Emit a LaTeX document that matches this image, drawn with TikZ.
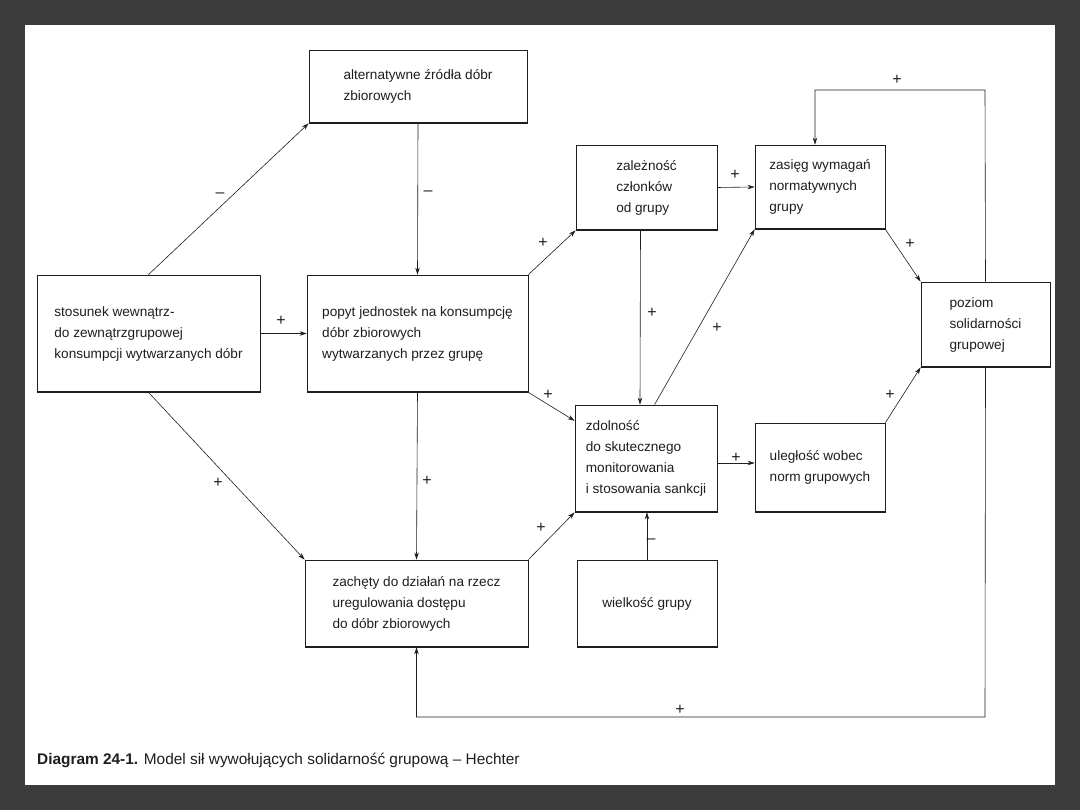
\documentclass[tikz,border=0pt]{standalone}
\usepackage{fontspec}
\setmainfont{Liberation Sans}
\usetikzlibrary{arrows.meta,calc}
\definecolor{frame}{HTML}{3C3C3C}
\definecolor{ink}{HTML}{1E1E1E}
\tikzset{
  box/.style={draw=ink, line width=0.8pt, align=left, text=ink, inner sep=4pt,
    font=\fontsize{13.6}{21}\selectfont},
  conn/.style={draw=ink, line width=0.6pt, -{Stealth[length=7pt,width=4.5pt]}},
  lbl/.style={text=ink, font=\fontsize{16}{16}\selectfont, inner sep=0pt},
}
\begin{document}
\begin{tikzpicture}[x=1pt,y=-1pt]
\useasboundingbox (0,0) rectangle (1080,810);
\fill[frame] (0,0) rectangle (1080,810);
\fill[white] (25,25) rectangle (1055,785);

% boxes
\node[box, minimum width=218pt, minimum height=73pt] (alt) at (418,86.5)
  {alternatywne źródła dóbr\\zbiorowych};
\node[box, minimum width=141pt, minimum height=85pt] (zal) at (646.5,187.5)
  {zależność\\członków\\od grupy};
\node[box, minimum width=130pt, minimum height=84pt] (zas) at (820,187)
  {zasięg wymagań\\normatywnych\\grupy};
\node[box, minimum width=223pt, minimum height=117pt] (sto) at (148.5,333.5)
  {stosunek wewnątrz-\\do zewnątrzgrupowej\\konsumpcji wytwarzanych dóbr};
\node[box, minimum width=221pt, minimum height=117pt] (pop) at (417.5,333.5)
  {popyt jednostek na konsumpcję\\dóbr zbiorowych\\wytwarzanych przez grupę};
\node[box, minimum width=142pt, minimum height=107pt] (zdo) at (646,458.5)
  {zdolność\\do skutecznego\\monitorowania\\i stosowania sankcji};
\node[box, minimum width=130pt, minimum height=89pt] (ule) at (820,467.5)
  {uległość wobec\\norm grupowych};
\node[box, minimum width=223pt, minimum height=87pt] (zac) at (416.5,603.5)
  {zachęty do działań na rzecz\\uregulowania dostępu\\do dóbr zbiorowych};
\node[box, minimum width=140pt, minimum height=87pt] (wie) at (647,603.5)
  {wielkość grupy};
\node[box, minimum width=129pt, minimum height=85pt] (poz) at (985.5,324.5)
  {poziom\\solidarności\\grupowej};

% thicker bottom edges
\foreach \b in {alt,zal,zas,sto,pop,zdo,ule,zac,wie,poz}
  \draw[ink, line width=2pt] (\b.south west) -- (\b.south east);

% connectors
\draw[conn] (sto.north) -- (alt.south west);
\draw[conn] (sto.south) -- (zac.north west);
\draw[conn] (sto.east) -- (pop.west);
\draw[conn] (alt.south) -- (pop.north);
\draw[conn] (pop.north east) -- (zal.south west);
\draw[conn] (pop.south east) -- ($(zdo.north west)!0.15!(zdo.south west)$);
\draw[conn] (pop.south) -- (zac.north);
\draw[conn] (zac.north east) -- (zdo.south west);
\draw[conn] (wie.north) -- (wie.north |- zdo.south);
\draw[conn] ($(zal.south)+(-6,0)$) -- ($(zdo.north)+(-6,0)$);
\draw[conn] ($(zdo.north west)!0.56!(zdo.north east)$) -- (zas.south west);
\draw[conn] (zal.east) -- (zas.west);
\draw[conn] (zdo.east |- 0,463) -- (ule.west |- 0,463);
\draw[conn] (zas.south east) -- (poz.north west);
\draw[conn] (ule.north east) -- (poz.south west);
\coordinate (ft) at (985,90);
\coordinate (fb) at (985,717);
\draw[conn] (poz.north) -- (ft) -| ($(zas.north)+(-5,0)$);
\draw[conn] (poz.south) -- (fb) -| (zac.south);

% labels
\node[lbl] (l1) at (220,195) {–};
\node[lbl] (l2) at (218,483) {+};
\node[lbl] (l3) at (281,321) {+};
\node[lbl] (l4) at (428,193) {–};
\node[lbl] (l5) at (543,243) {+};
\node[lbl] (l6) at (548,395) {+};
\node[lbl] (l7) at (427,481) {+};
\node[lbl] (l8) at (541,528) {+};
\node[lbl] (l9) at (651,541) {–};
\node[lbl] (l10) at (652,313) {+};
\node[lbl] (l11) at (717,328) {+};
\node[lbl] (l12) at (735,175) {+};
\node[lbl] (l13) at (736,458) {+};
\node[lbl] (l14) at (910,244) {+};
\node[lbl] (l15) at (890,395) {+};
\node[lbl] (l16) at (897,80) {+};
\node[lbl] (l17) at (680,710) {+};

% caption
\node[anchor=base west, text=ink, inner sep=0pt, font=\fontsize{15.4}{17}\selectfont] (cap) at (37,764)
  {\textbf{Diagram 24-1.} Model sił wywołujących solidarność grupową – Hechter};
\end{tikzpicture}
\end{document}
